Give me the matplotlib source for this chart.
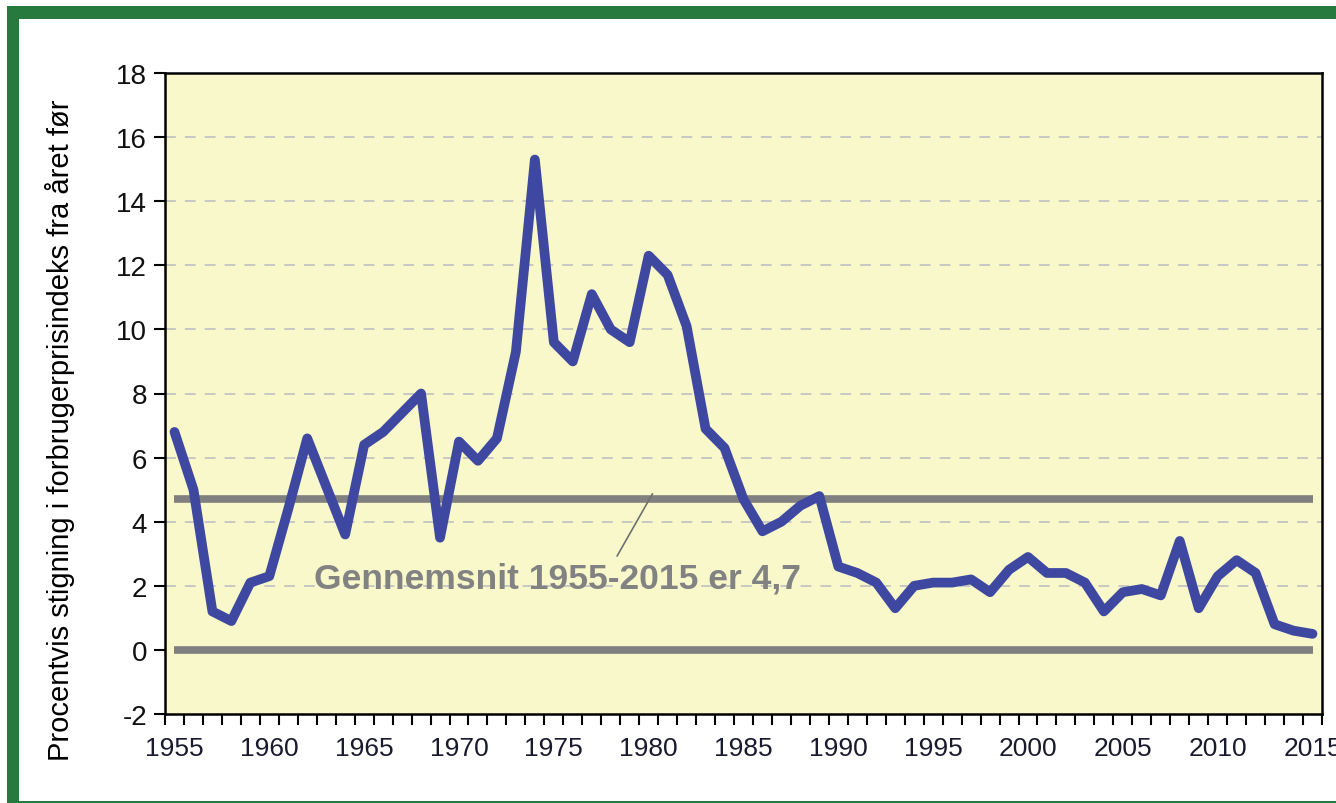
import numpy as np
import matplotlib.pyplot as plt
from matplotlib.patches import Rectangle

# Procentvis stigning i forbrugerprisindeks, 1955-2015
years = np.arange(1955, 2016)
inflation = [6.8, 5.0, 1.2, 0.9, 2.1, 2.3, 4.4, 6.6, 5.1, 3.6,
             6.4, 6.8, 7.4, 8.0, 3.5, 6.5, 5.9, 6.6, 9.3, 15.3,
             9.6, 9.0, 11.1, 10.0, 9.6, 12.3, 11.7, 10.1, 6.9, 6.3,
             4.7, 3.7, 4.0, 4.5, 4.8, 2.6, 2.4, 2.1, 1.3, 2.0,
             2.1, 2.1, 2.2, 1.8, 2.5, 2.9, 2.4, 2.4, 2.1, 1.2,
             1.8, 1.9, 1.7, 3.4, 1.3, 2.3, 2.8, 2.4, 0.8, 0.6,
             0.5]
average = 4.7
yticks = np.arange(-2, 19, 2)
xlabels = np.arange(1955, 2016, 5)

plt.rcParams['font.family'] = ['Liberation Sans', 'DejaVu Sans']
plt.rcParams['axes.unicode_minus'] = False

fig = plt.figure(figsize=(13.36, 8.04), dpi=100)
ax = fig.add_axes([165/1336, 89/804, (1322-165)/1336, (715-74)/804])
ax.set_facecolor('#f8f8cb')

# green frame round the figure
green = '#267a3e'
fig.add_artist(Rectangle((7/1336, (804-20)/804), 1, 13/804, transform=fig.transFigure,
                         facecolor=green, edgecolor='none'))
fig.add_artist(Rectangle((7/1336, 0), 12/1336, (804-7)/804, transform=fig.transFigure,
                         facecolor=green, edgecolor='none'))
fig.add_artist(Rectangle((7/1336, 0), 1, 2/804, transform=fig.transFigure,
                         facecolor=green, edgecolor='none'))

for y in yticks[1:-1]:
    if y != 0:
        ax.axhline(y, color='#c4c4c4', lw=1.3, ls=(0, (6, 5)), zorder=1)

ax.plot([years[0], years[-1]], [average, average], color='#808080', lw=5.5,
        solid_capstyle='butt', zorder=2)
ax.plot([years[0], years[-1]], [0, 0], color='#808080', lw=5.5,
        solid_capstyle='butt', zorder=2)
ax.plot(years, inflation, color='#3f48a0', lw=7, solid_joinstyle='round',
        solid_capstyle='round', zorder=3)

ax.annotate('Gennemsnit 1955-2015 er 4,7', xy=(1980.2, 4.87), xytext=(1975.2, 2.25),
            ha='center', va='center', fontsize=25.5, fontweight='bold', color='#828282',
            arrowprops=dict(arrowstyle='-', color='#707070', lw=1.2,
                            shrinkA=2, shrinkB=0, relpos=(0.616, 1.0)),
            zorder=4)

ax.set_xlim(1954.5, 2015.5)
ax.set_ylim(-2, 18)
ax.set_yticks(yticks)
ax.set_xticks(np.arange(1954.5, 2015.6, 1), minor=True)
ax.set_xticks(xlabels)
ax.set_xticklabels([str(x) for x in xlabels])
ax.tick_params(axis='x', which='major', length=0, pad=16, labelsize=19, labelcolor='#1a1a2e')
ax.tick_params(axis='x', which='minor', length=8, width=1.5, direction='out')
ax.tick_params(axis='y', length=8, width=1.5, direction='out', pad=5,
               labelsize=20, labelcolor='#111111')
for s in ax.spines.values():
    s.set_linewidth(1.8)
    s.set_color('black')

ax.set_ylabel('Procentvis stigning i forbrugerprisindeks fra året før', fontsize=21)
ax.yaxis.set_label_coords(-0.0775, 0.445)

fig.savefig('out.png', dpi=100, facecolor='white')
